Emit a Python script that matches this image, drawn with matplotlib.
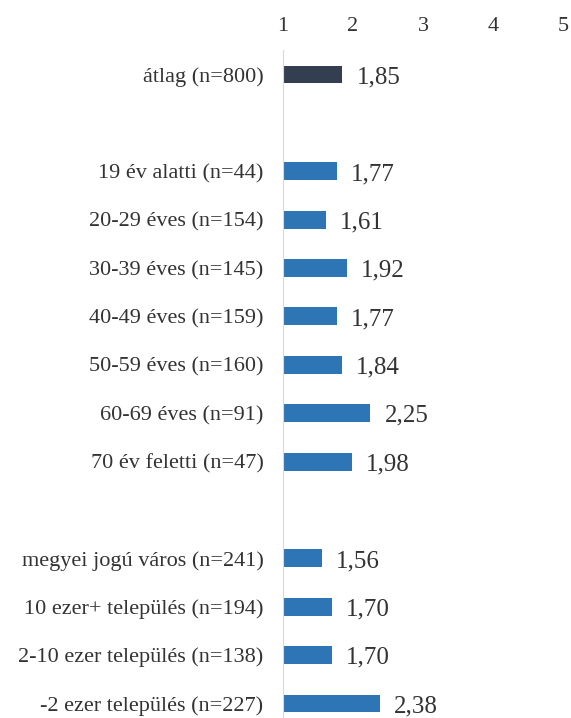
import matplotlib.pyplot as plt

plt.rcParams['font.family'] = ['Liberation Serif', 'DejaVu Serif']

labels = ["átlag (n=800)", "",
          "19 év alatti (n=44)", "20-29 éves (n=154)", "30-39 éves (n=145)",
          "40-49 éves (n=159)", "50-59 éves (n=160)", "60-69 éves (n=91)",
          "70 év feletti (n=47)", "",
          "megyei jogú város (n=241)", "10 ezer+ település (n=194)",
          "2-10 ezer település (n=138)", "-2 ezer település (n=227)"]
values = [1.85, None, 1.77, 1.61, 1.92, 1.77, 1.84, 2.25, 1.98, None,
          1.56, 1.70, 1.70, 2.38]

# átlag row has a dark colour, the rest blue
colors = ["#333F50"] + ["#2E75B6"] * (len(values) - 1)

fig = plt.figure(figsize=(5.71, 7.18), dpi=100)
ax = fig.add_axes([0.4956, 0.0, 0.4904, 0.930])

# None entries are empty slots between the groups
ypos = []
yl = []
for i, v in enumerate(values):
    if v is None:
        continue
    ax.barh(i, v - 1, left=1, height=0.37, color=colors[i])
    ax.annotate(f"{v:.2f}".replace(".", ","), xy=(v, i), xytext=(10, -2),
                textcoords="offset points", va="center", ha="left",
                fontsize=18, color="#333333")
    ypos.append(i)
    yl.append(labels[i])

ax.set_yticks(ypos)
ax.set_yticklabels(yl, fontsize=16, color="#333333")
ax.set_ylim(13.3, -0.5)
ax.set_xlim(1, 5)
ax.set_xticks([1, 2, 3, 4, 5])
ax.xaxis.tick_top()
ax.tick_params(axis="x", labelsize=16, colors="#333333", length=0, pad=10)
ax.tick_params(axis="y", length=0, pad=14)
for s in ["top", "right", "bottom"]:
    ax.spines[s].set_visible(False)
ax.spines["left"].set_color("#D9D9D9")

fig.savefig("out.png")
